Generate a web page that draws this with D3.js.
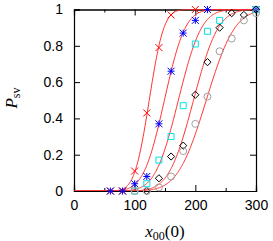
<!DOCTYPE html>
<html>
<head>
<meta charset="utf-8">
<script src="https://cdn.jsdelivr.net/npm/d3@7"></script>
<style>
body{margin:0;background:#fff;}
.tick text{font-family:"Liberation Sans",Arial,sans-serif;font-size:14px;}
</style>
</head>
<body>
<svg id="chart" width="273" height="241"></svg>
<script>
// data
var crossX = [60, 80, 100, 120, 140, 160, 200]
var crossY = [0, 0, 0.11, 0.43, 0.79, 0.97, 1]
var starX = [60, 80, 100, 120, 140, 160, 180, 200, 220, 300]
var starY = [0, 0, 0.04, 0.08, 0.37, 0.66, 0.87, 0.94, 1, 1]
var squareX = [100, 120, 140, 160, 180, 200, 220, 240, 300]
var squareY = [0, 0.04, 0.17, 0.30, 0.47, 0.81, 0.88, 0.94, 1]
var diamondX = [120, 140, 160, 180, 200, 220, 240, 260, 280, 300]
var diamondY = [0, 0.07, 0.19, 0.25, 0.53, 0.71, 0.90, 0.98, 0.97, 1]
var circleX = [100, 120, 140, 160, 180, 200, 220, 240, 260, 280, 300]
var circleY = [0, 0, 0.02, 0.08, 0.22, 0.37, 0.52, 0.77, 0.84, 0.94, 0.98]

// fitted curves (error function fits), one per series
var fitMu = [124, 149, 172, 197, 218]
var fitSigma = [19, 27, 30, 32, 37]

var xTicks = [0, 100, 200, 300]
var xMinor = [50, 150, 250]
var yTicks = [0, 0.2, 0.4, 0.6, 0.8, 1]

const width = 273, height = 241
const margin = {left: 74, right: 17, top: 9.5, bottom: 50}
const svg = d3.select("#chart")

const x = d3.scaleLinear().domain([0, 300]).range([margin.left, width - margin.right])
const y = d3.scaleLinear().domain([0, 1]).range([height - margin.bottom, margin.top])

// erf approximation (Abramowitz & Stegun)
function erf(z) {
    var s = z < 0 ? -1 : 1
    z = Math.abs(z)
    var t = 1 / (1 + 0.3275911 * z)
    var p = 1 - (((((1.061405429 * t - 1.453152027) * t) + 1.421413741) * t - 0.284496736) * t + 0.254829592) * t * Math.exp(-z * z)
    return s * p
}

// axes
const tickLen = 6
svg.append("g")
    .attr("transform", `translate(0,${y(0)})`)
    .call(d3.axisBottom(x).tickValues(xTicks).tickSize(-tickLen).tickPadding(9).tickFormat(d3.format("d")))
svg.append("g")
    .attr("transform", `translate(0,${y(1)})`)
    .call(d3.axisTop(x).tickValues(xTicks).tickSize(-tickLen).tickFormat(""))
svg.append("g")
    .attr("transform", `translate(0,${y(0)})`)
    .call(d3.axisBottom(x).tickValues(xMinor).tickSize(-3).tickFormat(""))
svg.append("g")
    .attr("transform", `translate(0,${y(1)})`)
    .call(d3.axisTop(x).tickValues(xMinor).tickSize(-3).tickFormat(""))
svg.append("g")
    .attr("transform", `translate(${x(0)},0)`)
    .call(d3.axisLeft(y).tickValues(yTicks).tickSize(-tickLen).tickPadding(11).tickFormat(d => d))
svg.append("g")
    .attr("transform", `translate(${x(300)},0)`)
    .call(d3.axisRight(y).tickValues(yTicks).tickSize(-tickLen).tickFormat(""))

svg.selectAll(".domain").attr("stroke", "#000").attr("stroke-width", 1.2)
svg.selectAll(".tick line").attr("stroke", "#000")
svg.selectAll(".tick text").attr("fill", "#000")

// fit curves
const clip = svg.append("clipPath").attr("id", "clip")
    .append("rect")
    .attr("x", x(0)).attr("y", y(1) - 1)
    .attr("width", x(300) - x(0)).attr("height", y(0) - y(1) + 1)

const xs = d3.range(0, 301, 1)
const line = d3.line().x(d => x(d[0])).y(d => y(d[1]))
const curves = svg.append("g").attr("clip-path", "url(#clip)")
for (let i = 0; i < fitMu.length; i++) {
    var pts = xs.map(v => [v, 0.5 * (1 + erf((v - fitMu[i]) / (fitSigma[i] * Math.SQRT2)))])
    curves.append("path")
        .attr("d", line(pts))
        .attr("fill", "none")
        .attr("stroke", "#ff3030")
        .attr("stroke-width", 1)
}

// markers
function drawPoints(xv, yv, pathFn, color) {
    svg.append("g").selectAll("path")
        .data(xv.map((d, i) => [d, yv[i]]))
        .enter()
        .append("path")
        .attr("transform", d => `translate(${x(d[0])},${y(d[1])})`)
        .attr("d", pathFn)
        .attr("fill", "none")
        .attr("stroke", color)
        .attr("stroke-width", 1)
}
const s = 3.5
drawPoints(crossX, crossY, () => `M${-s},${-s}L${s},${s}M${-s},${s}L${s},${-s}`, "#ff0000")
drawPoints(starX, starY, () => `M${-s},${-s}L${s},${s}M${-s},${s}L${s},${-s}M0,${-s}L0,${s}M${-s},0L${s},0`, "#0000ff")
drawPoints(squareX, squareY, () => "M-3,-3H3V3H-3Z", "#00e5e5")
drawPoints(diamondX, diamondY, () => "M0,-3.6L3.6,0L0,3.6L-3.6,0Z", "#000")
drawPoints(circleX, circleY, () => d3.arc()({innerRadius: 0, outerRadius: 3.5, startAngle: 0, endAngle: 2 * Math.PI}), "#a0a0a0")

// axis labels
svg.append("text")
    .attr("transform", "translate(17,98) rotate(-90)")
    .attr("text-anchor", "middle")
    .attr("font-family", "Liberation Serif, serif")
    .attr("font-size", 17)
    .html('<tspan font-style="italic">P</tspan><tspan font-size="12" dy="3">sv</tspan>')

svg.append("text")
    .attr("x", 165).attr("y", 236.5)
    .attr("text-anchor", "middle")
    .attr("font-family", "Liberation Serif, serif")
    .attr("font-size", 17)
    .html('<tspan font-style="italic">x</tspan><tspan font-size="12" dy="3">00</tspan><tspan dy="-3">(0)</tspan>')
</script>
</body>
</html>
